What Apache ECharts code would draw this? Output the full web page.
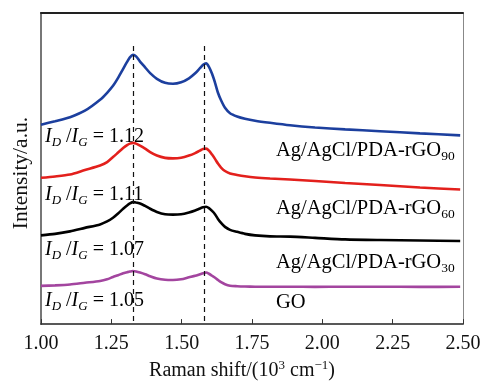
<!DOCTYPE html>
<html>
<head>
<meta charset="utf-8">
<script src="https://cdn.jsdelivr.net/npm/echarts@6/dist/echarts.min.js"></script>
<style>html,body{margin:0;padding:0;background:#fff;}#c{width:490px;height:386px;}</style>
</head>
<body>
<div id="c"></div>
<script>
// Raman shift (10^3 cm^-1)
var shift = [1.000, 1.050, 1.103, 1.156, 1.210, 1.235, 1.256, 1.274, 1.292, 1.306, 1.316, 1.327, 1.338, 1.352, 1.370, 1.388, 1.412, 1.441, 1.469, 1.498, 1.526, 1.548, 1.565, 1.576, 1.587, 1.597, 1.608, 1.619, 1.629, 1.640, 1.654, 1.672, 1.697, 1.725, 1.761, 1.814, 1.885, 1.974, 2.081, 2.205, 2.347, 2.490];
// Intensity (a.u., offset stacked)
var rGO90 = [64.10, 65.22, 66.51, 68.59, 72.12, 74.36, 76.60, 79.17, 82.05, 84.29, 85.74, 86.54, 86.06, 84.39, 82.53, 80.67, 78.85, 77.56, 77.24, 77.72, 79.01, 80.61, 82.28, 83.33, 83.81, 82.69, 80.45, 77.47, 74.36, 71.96, 69.55, 67.79, 66.76, 66.03, 65.38, 64.70, 63.90, 63.20, 62.60, 62.00, 61.30, 60.67];
var rGO60 = [47.02, 47.44, 48.08, 49.52, 50.96, 52.08, 53.69, 55.13, 56.57, 57.53, 58.01, 58.24, 58.01, 57.37, 56.41, 55.29, 54.17, 53.43, 53.27, 53.46, 54.17, 54.97, 55.77, 56.25, 56.41, 55.77, 54.49, 53.04, 51.60, 50.32, 49.20, 48.40, 47.92, 47.50, 47.12, 46.79, 46.47, 45.99, 45.35, 44.71, 43.91, 43.27];
var rGO30 = [28.53, 29.01, 29.81, 30.93, 32.05, 33.01, 34.20, 35.58, 37.08, 38.14, 38.78, 39.20, 39.10, 38.78, 37.98, 37.08, 36.06, 35.32, 35.19, 35.32, 35.90, 36.54, 37.18, 37.56, 37.72, 37.28, 36.38, 35.26, 33.81, 32.53, 31.25, 30.29, 29.65, 29.01, 28.53, 28.21, 28.11, 27.72, 27.24, 27.02, 26.86, 26.70];
var GO = [12.28, 12.44, 12.72, 13.30, 13.88, 14.42, 15.16, 15.71, 16.35, 16.67, 16.89, 17.08, 16.92, 16.57, 16.03, 15.38, 14.65, 14.23, 14.17, 14.42, 15.06, 15.54, 16.03, 16.35, 16.57, 16.19, 15.54, 14.90, 14.17, 13.46, 12.82, 12.34, 12.18, 12.08, 12.02, 12.00, 12.00, 11.98, 12.00, 12.00, 11.97, 12.00];
var seriesNames = ['Ag/AgCl/PDA-rGO90', 'Ag/AgCl/PDA-rGO60', 'Ag/AgCl/PDA-rGO30', 'GO'];
var ratios = ['1.12', '1.11', '1.07', '1.05'];
var peakD = 1.327, peakG = 1.58;

var FF = '"Liberation Serif", "Times New Roman", serif';
function pts(arr){ return shift.map(function(x,i){ return [x, arr[i]]; }); }

var chart = echarts.init(document.getElementById('c'));
var colors = ['#1c3f9e', '#e3201c', '#000000', '#a3459f'];
var datas = [rGO90, rGO60, rGO30, GO];
var series = datas.map(function(d, i){
  return {
    type: 'line', name: seriesNames[i], data: pts(d), showSymbol: false, smooth: 0.25,
    lineStyle: {color: colors[i], width: 2.6}, z: 3
  };
});
series[0].markLine = {
  silent: true, symbol: 'none', label: {show: false},
  lineStyle: {color: '#111', type: [5, 4], width: 1.2},
  data: [
    [{coord: [peakD, 89.4]}, {coord: [peakD, 0]}],
    [{coord: [peakG, 89.4]}, {coord: [peakG, 0]}]
  ]
};

var annoRich = {
  i: {fontFamily: FF, fontStyle: 'italic', fontSize: 20, lineHeight: 24, verticalAlign: 'middle', color: '#111'},
  s: {fontFamily: FF, fontStyle: 'italic', fontSize: 13, lineHeight: 12, verticalAlign: 'bottom', color: '#111'},
  n: {fontFamily: FF, fontSize: 20, lineHeight: 24, verticalAlign: 'middle', color: '#111'}
};
var labRich = {
  n: {fontFamily: FF, fontSize: 20.5, lineHeight: 24, verticalAlign: 'middle', color: '#111'},
  s: {fontFamily: FF, fontSize: 13.5, lineHeight: 12, verticalAlign: 'bottom', color: '#111'}
};
var annoY = [137, 195, 250, 301];
var labY = [151, 209, 263, 303];
var graphics = [];
ratios.forEach(function(r, i){
  graphics.push({type: 'text', x: 45, y: annoY[i], z: 10,
    style: {text: '{i|I}{s|D}{n| /}{i|I}{s|G}{n| = ' + r + '}', rich: annoRich, verticalAlign: 'middle', align: 'left'}});
});
seriesNames.forEach(function(nm, i){
  var m = nm.match(/^(.*rGO)(\d+)$/);
  var txt = m ? '{n|' + m[1] + '}{s|' + m[2] + '}' : '{n|' + nm + '}';
  graphics.push({type: 'text', x: 276, y: labY[i], z: 10,
    style: {text: txt, rich: labRich, verticalAlign: 'middle', align: 'left'}});
});
graphics.push({type: 'text', x: 21, y: 173, rotation: Math.PI / 2, z: 10,
  style: {text: 'Intensity/a.u.', fontFamily: FF, fontSize: 21.5, fill: '#111', align: 'center', verticalAlign: 'middle'}});

chart.setOption({
  animation: false,
  backgroundColor: '#fff',
  grid: {left: 41, right: 27, top: 13, bottom: 61, containLabel: false},
  xAxis: [{
    type: 'value', min: 1, max: 2.5, interval: 0.25, position: 'bottom',
    axisLine: {show: true, lineStyle: {color: '#222', width: 1.5}},
    axisTick: {show: true, inside: true, length: 5, lineStyle: {color: '#333', width: 1}},
    axisLabel: {margin: 10, fontFamily: FF, fontSize: 20, color: '#111', formatter: function(v){ return v.toFixed(2); }},
    splitLine: {show: false},
    name: '{n|Raman shift/(10}{p|3}{n| cm}{p|\u22121}{n|)}', nameLocation: 'middle', nameGap: 26,
    nameTextStyle: {padding: [0, 20, 0, 0], rich: {
      n: {fontFamily: FF, fontSize: 20, lineHeight: 24, verticalAlign: 'middle', color: '#111'},
      p: {fontFamily: FF, fontSize: 13, lineHeight: 13, verticalAlign: 'top', color: '#111'}
    }}
  }, {
    type: 'value', min: 1, max: 2.5, position: 'top',
    axisLine: {show: true, onZero: false, lineStyle: {color: '#222', width: 2}},
    axisTick: {show: false}, axisLabel: {show: false}, splitLine: {show: false}
  }],
  yAxis: [{
    type: 'value', min: 0, max: 100, position: 'left',
    axisLine: {show: true, onZero: false, lineStyle: {color: '#777', width: 2}},
    axisTick: {show: false}, axisLabel: {show: false}, splitLine: {show: false}
  }, {
    type: 'value', min: 0, max: 100, position: 'right',
    axisLine: {show: true, onZero: false, lineStyle: {color: '#888', width: 1}},
    axisTick: {show: false}, axisLabel: {show: false}, splitLine: {show: false}
  }],
  series: series,
  graphic: graphics
});
</script>
</body>
</html>
